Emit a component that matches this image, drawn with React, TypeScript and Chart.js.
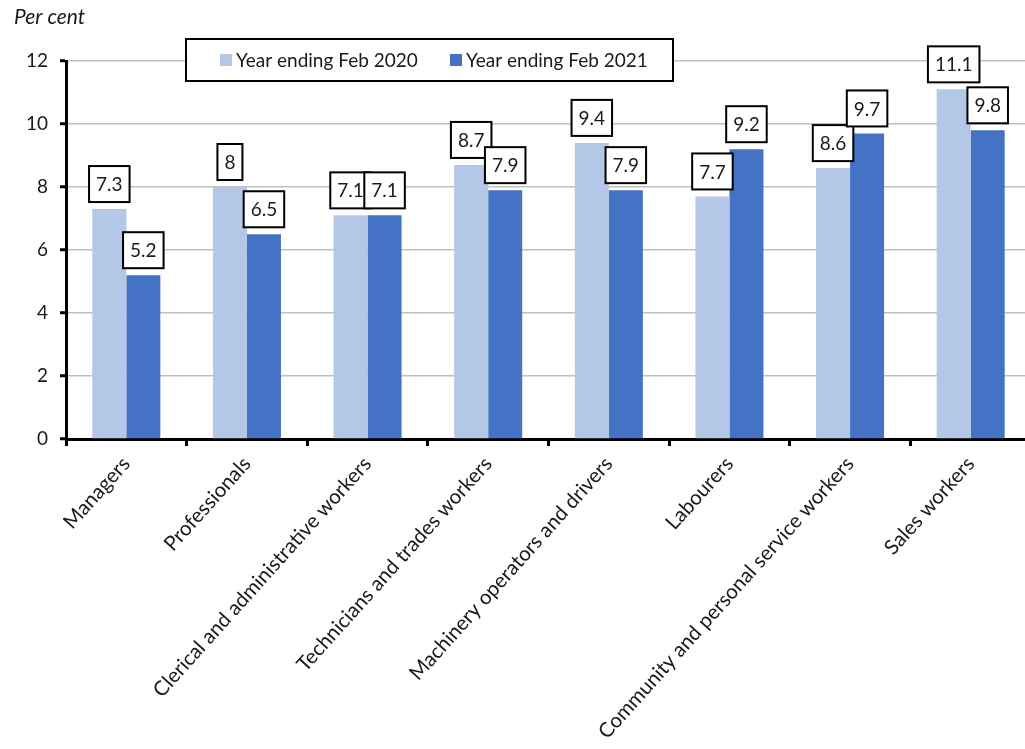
import React, { useEffect, useRef } from "react";
import { Chart, registerables } from "chart.js";

Chart.register(...registerables);

const categories = [
  "Managers",
  "Professionals",
  "Clerical and administrative workers",
  "Technicians and trades workers",
  "Machinery operators and drivers",
  "Labourers",
  "Community and personal service workers",
  "Sales workers",
];
const seriesLabels = ["Year ending Feb 2020", "Year ending Feb 2021"];
const values2020 = [7.3, 8, 7.1, 8.7, 9.4, 7.7, 8.6, 11.1];
const values2021 = [5.2, 6.5, 7.1, 7.9, 7.9, 9.2, 9.7, 9.8];
const yTicks = [0, 2, 4, 6, 8, 10, 12];
const yTitle = "Per cent";

const COLORS = ["#B4C7E7", "#4472C4"];
const FONT = "Lato, 'Open Sans', sans-serif";
const TEXT = "#1a1a1a";

const labelBoxes = {
  id: "labelBoxes",
  afterDatasetsDraw(chart: any) {
    const ctx = chart.ctx;
    ctx.save();
    ctx.font = `19px ${FONT}`;
    ctx.textAlign = "center";
    ctx.textBaseline = "middle";
    chart.data.datasets.forEach((ds: any, di: number) => {
      const meta = chart.getDatasetMeta(di);
      meta.data.forEach((el: any, i: number) => {
        const txt = String(ds.data[i]);
        const w = ctx.measureText(txt).width + 14;
        const h = 36;
        const cx = el.x;
        const bottom = el.y - 7;
        ctx.fillStyle = "#fff";
        ctx.fillRect(cx - w / 2, bottom - h, w, h);
        ctx.lineWidth = 2;
        ctx.strokeStyle = "#000";
        ctx.strokeRect(cx - w / 2, bottom - h, w, h);
        ctx.fillStyle = TEXT;
        ctx.fillText(txt, cx, bottom - h / 2 + 1);
      });
    });
    ctx.restore();
  },
};

const overlay = {
  id: "overlay",
  afterDraw(chart: any) {
    const ctx = chart.ctx;
    ctx.save();
    // title
    ctx.font = `italic 21px ${FONT}`;
    ctx.fillStyle = TEXT;
    ctx.textAlign = "left";
    ctx.textBaseline = "alphabetic";
    ctx.fillText(yTitle, 14, 24);
    // legend
    const bx = 186, by = 39, bw = 487, bh = 42;
    ctx.fillStyle = "#fff";
    ctx.fillRect(bx, by, bw, bh);
    ctx.lineWidth = 2;
    ctx.strokeStyle = "#000";
    ctx.strokeRect(bx, by, bw, bh);
    const itemX = [220, 450];
    ctx.font = `19px ${FONT}`;
    ctx.textBaseline = "middle";
    chart.data.datasets.forEach((ds: any, i: number) => {
      ctx.fillStyle = ds.backgroundColor;
      ctx.fillRect(itemX[i], 54, 12, 12);
      ctx.fillStyle = TEXT;
      ctx.fillText(ds.label, itemX[i] + 16, 61);
    });
    ctx.restore();
  },
};

export default function App() {
  const ref = useRef<HTMLCanvasElement>(null);
  useEffect(() => {
    document.body.style.margin = "0";
    const chart = new Chart(ref.current!, {
      type: "bar",
      data: {
        labels: categories,
        datasets: [
          { label: seriesLabels[0], data: values2020, backgroundColor: COLORS[0] },
          { label: seriesLabels[1], data: values2021, backgroundColor: COLORS[1] },
        ],
      },
      options: {
        responsive: false,
        animation: false,
        devicePixelRatio: 1,
        layout: { padding: { top: 61, right: 9, left: 0, bottom: 0 } },
        datasets: { bar: { categoryPercentage: 0.564, barPercentage: 1 } },
        plugins: { legend: { display: false }, tooltip: { enabled: false }, title: { display: false } },
        scales: {
          x: {
            offset: true,
            grid: { display: true, drawOnChartArea: false, offset: true, tickLength: 7, tickColor: "#000", tickWidth: 3 },
            border: { color: "#000", width: 3 },
            ticks: {
              autoSkip: false,
              minRotation: 48,
              maxRotation: 48,
              padding: 6,
              color: TEXT,
              font: { family: FONT, size: 20.5 },
            },
            afterFit(scale: any) {
              scale.height = 310;
            },
          },
          y: {
            min: 0,
            max: 12,
            afterBuildTicks(scale: any) {
              scale.ticks = yTicks.map((v) => ({ value: v }));
            },
            grid: { color: "#BFBFBF", lineWidth: 1.5, tickLength: 6, tickColor: "#000", tickWidth: 3 },
            border: { color: "#000", width: 3 },
            ticks: { padding: 12, color: TEXT, font: { family: FONT, size: 19 } },
            afterFit(scale: any) {
              scale.width = 66;
            },
          },
        },
      },
      plugins: [labelBoxes, overlay],
    });
    return () => chart.destroy();
  }, []);
  return (
    <div style={{ position: "fixed", left: 0, top: 0, width: 1025, height: 749, overflow: "hidden", background: "#fff" }}>
      <canvas ref={ref} width={1040} height={749} style={{ width: 1040, height: 749, display: "block" }} />
    </div>
  );
}
